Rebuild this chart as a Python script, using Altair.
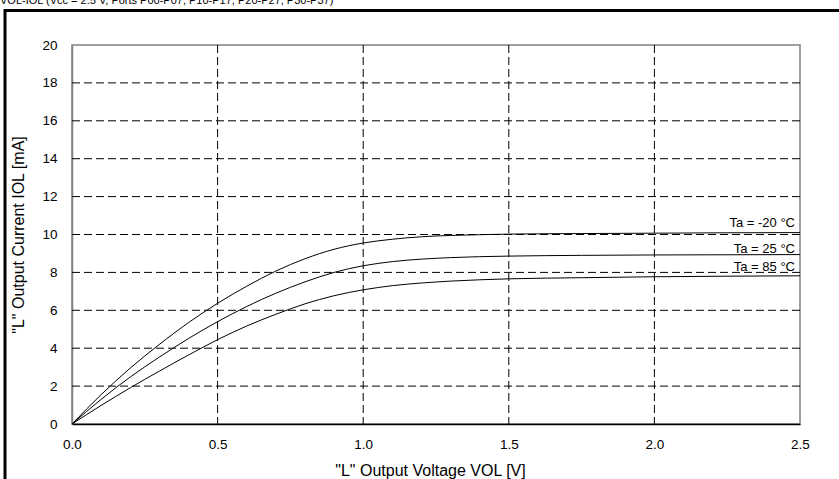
import altair as alt
import pandas as pd

# ---- data ----
vol = [0.0, 0.1, 0.2, 0.3, 0.4, 0.5, 0.6, 0.7, 0.8, 0.9, 1.0, 1.1, 1.2, 1.3, 1.4, 1.5, 1.75, 2.0, 2.25, 2.5]
iol_m20 = [0.0, 1.55, 2.95, 4.2, 5.35, 6.37, 7.27, 8.07, 8.72, 9.22, 9.55, 9.75, 9.88, 9.95, 9.99, 10.02, 10.05, 10.07, 10.09, 10.1]
iol_25 = [0.0, 1.3, 2.48, 3.53, 4.51, 5.4, 6.2, 6.9, 7.5, 8.0, 8.35, 8.57, 8.7, 8.78, 8.83, 8.86, 8.9, 8.92, 8.93, 8.94]
iol_85 = [0.0, 0.98, 1.91, 2.79, 3.64, 4.45, 5.17, 5.79, 6.34, 6.77, 7.08, 7.3, 7.44, 7.54, 7.61, 7.66, 7.72, 7.77, 7.8, 7.82]
series_names = ["Ta = -20 °C", "Ta = 25 °C", "Ta = 85 °C"]
label_y = [10.6, 9.25, 8.3]

x_ticks = [0.0, 0.5, 1.0, 1.5, 2.0, 2.5]
y_ticks = [0, 2, 4, 6, 8, 10, 12, 14, 16, 18, 20]
x_grid = [0.5, 1.0, 1.5, 2.0]
y_grid = [2, 4, 6, 8, 10, 12, 14, 16, 18]

top_text = "VOL-IOL (Vcc = 2.5 V, Ports P00-P07, P10-P17, P20-P27, P30-P37)"
x_title = '"L" Output Voltage VOL [V]'
y_title = '"L" Output Current IOL [mA]'

FONT = "Liberation Sans"
W, H = 728, 379

rows = []
for name, vals in zip(series_names, [iol_m20, iol_25, iol_85]):
    for v, i in zip(vol, vals):
        rows.append({"series": name, "VOL": v, "IOL": i})
df = pd.DataFrame(rows)

xs = alt.Scale(domain=[0, 2.5], nice=False, zero=False)
ys = alt.Scale(domain=[0, 20], nice=False)

x_axis = alt.Axis(values=x_ticks, format=".1f", grid=False, ticks=False, labelFlush=False,
                  domainColor="black", domainWidth=1.5,
                  labelFont=FONT, labelFontSize=13.5, labelColor="black", labelPadding=13,
                  title=x_title, titleFont=FONT, titleFontSize=16, titleFontWeight="normal",
                  titleColor="black", titleBaseline="middle", titleY=46, titleX=W / 2 - 6)
y_axis = alt.Axis(values=y_ticks, grid=False, ticks=False, labelFlush=False,
                  domainColor="#808080", domainWidth=1.5,
                  labelFont=FONT, labelFontSize=13.5, labelColor="black", labelPadding=15,
                  title=y_title, titleFont=FONT, titleFontSize=16, titleFontWeight="normal",
                  titleColor="black", titleBaseline="middle", titleAlign="center",
                  titleAngle=-90, titleX=-54, titleY=H / 2)

hgrid = alt.Chart(pd.DataFrame({"IOL": y_grid})).mark_rule(
    color="black", strokeWidth=1, strokeDash=[8, 4]
).encode(y=alt.Y("IOL:Q", scale=ys, axis=y_axis))

vgrid = alt.Chart(pd.DataFrame({"VOL": x_grid})).mark_rule(
    color="black", strokeWidth=1, strokeDash=[8, 4]
).encode(x=alt.X("VOL:Q", scale=xs, axis=x_axis))

lines = alt.Chart(df).mark_line(color="black", strokeWidth=1, interpolate="monotone").encode(
    x=alt.X("VOL:Q", scale=xs, axis=x_axis),
    y=alt.Y("IOL:Q", scale=ys, axis=y_axis),
    detail="series:N",
)

lab_df = pd.DataFrame({"series": series_names, "IOL": label_y, "VOL": [2.5] * 3})
labels = alt.Chart(lab_df).mark_text(
    align="right", baseline="middle", dx=-5, font=FONT, fontSize=13, color="black"
).encode(x=alt.X("VOL:Q", scale=xs, axis=x_axis), y=alt.Y("IOL:Q", scale=ys, axis=y_axis),
         text="series:N")

top = alt.Chart(pd.DataFrame({"t": [top_text]})).mark_text(
    align="left", baseline="alphabetic", font=FONT, fontSize=11, color="black"
).encode(x=alt.value(-72), y=alt.value(-41.5), text="t:N")

border = alt.Chart(pd.DataFrame({"a": [0]})).mark_rect(
    fill=None, stroke="black", strokeWidth=3
).encode(x=alt.value(-67), x2=alt.value(900), y=alt.value(-34.5), y2=alt.value(700))

chart = alt.layer(hgrid, vgrid, lines, labels, top, border).properties(
    width=W, height=H,
    autosize=alt.AutoSizeParams(type="none"),
    padding={"left": 72, "top": 45, "right": 839 - 72 - W, "bottom": 479 - 45 - H},
    background="white",
).configure_view(stroke="#808080", strokeWidth=1.5)

chart.save("out.html", embed_options={"renderer": "svg", "actions": False})
